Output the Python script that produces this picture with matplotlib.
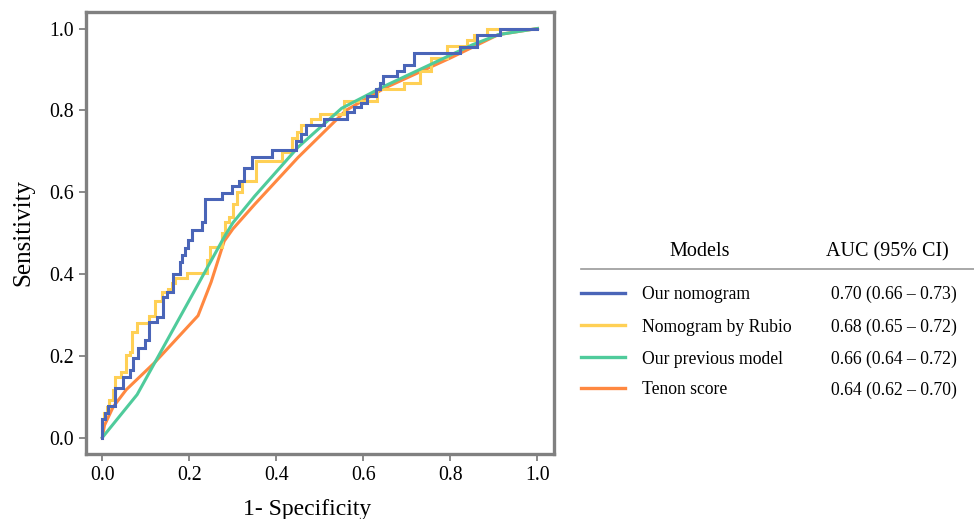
import matplotlib
matplotlib.use("Agg")
import matplotlib.pyplot as plt
from matplotlib.lines import Line2D

plt.rcParams['font.family'] = ['Liberation Serif', 'DejaVu Serif']

# ---------------- data ----------------
models = ["Our nomogram", "Nomogram by Rubio", "Our previous model", "Tenon score"]
auc_text = ["0.70 (0.66 \u2013 0.73)", "0.68 (0.65 \u2013 0.72)",
            "0.66 (0.64 \u2013 0.72)", "0.64 (0.62 \u2013 0.70)"]

nomo_fpr = [0, 0, 0.007, 0.007, 0.012, 0.012, 0.03, 0.03, 0.048, 0.048, 0.064, 0.064,
            0.071, 0.071, 0.083, 0.083, 0.098, 0.098, 0.107, 0.107, 0.125, 0.125,
            0.14, 0.14, 0.148, 0.148, 0.163, 0.163, 0.179, 0.179, 0.184, 0.184,
            0.19, 0.19, 0.198, 0.198, 0.206, 0.206, 0.228, 0.228, 0.237, 0.237,
            0.274, 0.274, 0.299, 0.299, 0.315, 0.315, 0.326, 0.326, 0.345, 0.345,
            0.391, 0.391, 0.446, 0.446, 0.457, 0.457, 0.469, 0.469, 0.51, 0.51,
            0.563, 0.563, 0.579, 0.579, 0.595, 0.595, 0.609, 0.609, 0.63, 0.63,
            0.637, 0.637, 0.644, 0.644, 0.678, 0.678, 0.694, 0.694, 0.717, 0.717,
            0.821, 0.821, 0.86, 0.86, 0.913, 0.913, 1.0]
nomo_tpr = [0, 0.045, 0.045, 0.06, 0.06, 0.076, 0.076, 0.12, 0.12, 0.149, 0.149, 0.165,
            0.165, 0.194, 0.194, 0.218, 0.218, 0.238, 0.238, 0.283, 0.283, 0.295,
            0.295, 0.344, 0.344, 0.356, 0.356, 0.401, 0.401, 0.43, 0.43, 0.446,
            0.446, 0.463, 0.463, 0.483, 0.483, 0.507, 0.507, 0.526, 0.526, 0.582,
            0.582, 0.599, 0.599, 0.614, 0.614, 0.628, 0.628, 0.66, 0.66, 0.687,
            0.687, 0.704, 0.704, 0.724, 0.724, 0.741, 0.741, 0.765, 0.765, 0.778,
            0.778, 0.795, 0.795, 0.807, 0.807, 0.819, 0.819, 0.836, 0.836, 0.853,
            0.853, 0.868, 0.868, 0.883, 0.883, 0.895, 0.895, 0.912, 0.912, 0.941,
            0.941, 0.954, 0.954, 0.985, 0.985, 1.0, 1.0]

rubio_fpr = [0, 0, 0.004, 0.004, 0.01, 0.01, 0.016, 0.016, 0.025, 0.025, 0.03, 0.03,
             0.044, 0.044, 0.055, 0.055, 0.064, 0.064, 0.069, 0.069, 0.08, 0.08,
             0.108, 0.108, 0.122, 0.122, 0.138, 0.138, 0.15, 0.15, 0.161, 0.161,
             0.166, 0.166, 0.195, 0.195, 0.241, 0.241, 0.248, 0.248, 0.276, 0.276,
             0.283, 0.283, 0.29, 0.29, 0.3, 0.3, 0.31, 0.31, 0.322, 0.322, 0.354,
             0.354, 0.414, 0.414, 0.437, 0.437, 0.448, 0.448, 0.457, 0.457, 0.48,
             0.48, 0.5, 0.5, 0.556, 0.556, 0.632, 0.632, 0.694, 0.694, 0.729, 0.729,
             0.756, 0.756, 0.793, 0.793, 0.839, 0.839, 0.855, 0.855, 0.885, 0.885, 1.0]
rubio_tpr = [0, 0.046, 0.046, 0.06, 0.06, 0.075, 0.075, 0.093, 0.093, 0.117, 0.117,
             0.147, 0.147, 0.161, 0.161, 0.203, 0.203, 0.21, 0.21, 0.257, 0.257,
             0.281, 0.281, 0.298, 0.298, 0.333, 0.333, 0.355, 0.355, 0.364, 0.364,
             0.379, 0.379, 0.389, 0.389, 0.403, 0.403, 0.435, 0.435, 0.465, 0.465,
             0.501, 0.501, 0.526, 0.526, 0.538, 0.538, 0.57, 0.57, 0.6, 0.6, 0.626,
             0.626, 0.675, 0.675, 0.699, 0.699, 0.733, 0.733, 0.748, 0.748, 0.765,
             0.765, 0.78, 0.78, 0.792, 0.792, 0.823, 0.823, 0.853, 0.853, 0.868,
             0.868, 0.895, 0.895, 0.927, 0.927, 0.958, 0.958, 0.973, 0.973, 0.985,
             0.985, 1.0, 1.0]

prev_fpr = [0, 0.08, 0.28, 0.30, 0.35, 0.45, 0.55, 0.65, 0.75, 0.80, 0.85, 0.91, 1.0]
prev_tpr = [0, 0.105, 0.49, 0.525, 0.59, 0.71, 0.805, 0.86, 0.91, 0.935, 0.96, 0.985, 1.0]

tenon_fpr = [0, 0.005, 0.025, 0.055, 0.12, 0.22, 0.25, 0.28, 0.30, 0.35, 0.45, 0.56,
             0.65, 0.80, 0.91, 1.0]
tenon_tpr = [0, 0.03, 0.075, 0.117, 0.183, 0.298, 0.38, 0.48, 0.51, 0.57, 0.685, 0.80,
             0.855, 0.928, 0.985, 1.0]

xticks = [0.0, 0.2, 0.4, 0.6, 0.8, 1.0]
yticks = [0.0, 0.2, 0.4, 0.6, 0.8, 1.0]

# ---------------- styles ----------------
colors = ["#4A65B8", "#FFD055", "#4FCB9B", "#FF8840"]
spine_color = "#808080"

fig = plt.figure(figsize=(9.74, 5.19), dpi=100)
ax = fig.add_axes([86 / 974, 1 - 453.5 / 519, (554 - 86) / 974, (453.5 - 11.5) / 519])

curves = [(nomo_fpr, nomo_tpr), (rubio_fpr, rubio_tpr), (prev_fpr, prev_tpr), (tenon_fpr, tenon_tpr)]
order = [3, 1, 2, 0]
for i in order:
    fx, ty = curves[i]
    ax.plot(fx, ty, color=colors[i], lw=2.2, solid_joinstyle='miter', zorder=2 + order.index(i))

ax.set_xlim(-0.0375, 1.038)
ax.set_ylim(-0.039, 1.0416)
ax.set_xticks(xticks)
ax.set_yticks(yticks)
ax.set_xticklabels([f"{t:.1f}" for t in xticks])
ax.set_yticklabels([f"{t:.1f}" for t in yticks])
for s in ax.spines.values():
    s.set_color(spine_color)
    s.set_linewidth(2.4)
ax.tick_params(direction='out', length=5, width=1.3, color=spine_color,
               labelsize=14.3, labelcolor='black', pad=4)
ax.set_xlabel("1- Specificity", fontsize=17)
ax.xaxis.set_label_coords(0.472, -0.104, transform=ax.transAxes)
ax.xaxis.label.set_va('top')
ax.set_ylabel("Sensitivity", fontsize=18, labelpad=10)

# ---------------- legend table ----------------
def fx_(px):
    return px / 974

def fy_(py):
    return 1 - py / 519

fig.text(fx_(700), fy_(252), "Models", fontsize=14.5, ha='center', va='center')
fig.text(fx_(887), fy_(252), "AUC (95% CI)", fontsize=14.5, ha='center', va='center')
fig.add_artist(Line2D([fx_(581), fx_(974)], [fy_(269.3), fy_(269.3)], color="#999999",
                      lw=1.2, transform=fig.transFigure))
row_y = [292.5, 325, 357, 388]
for i, name in enumerate(models):
    y = fy_(row_y[i])
    yt = fy_(row_y[i] + 2)
    fig.add_artist(Line2D([fx_(581), fx_(625)], [y, y], color=colors[i], lw=2.4,
                          transform=fig.transFigure))
    fig.text(fx_(642), yt, name, fontsize=12.7, ha='left', va='center')
    fig.text(fx_(957), yt, auc_text[i], fontsize=12.7, ha='right', va='center')

fig.savefig("out.png", dpi=100)
